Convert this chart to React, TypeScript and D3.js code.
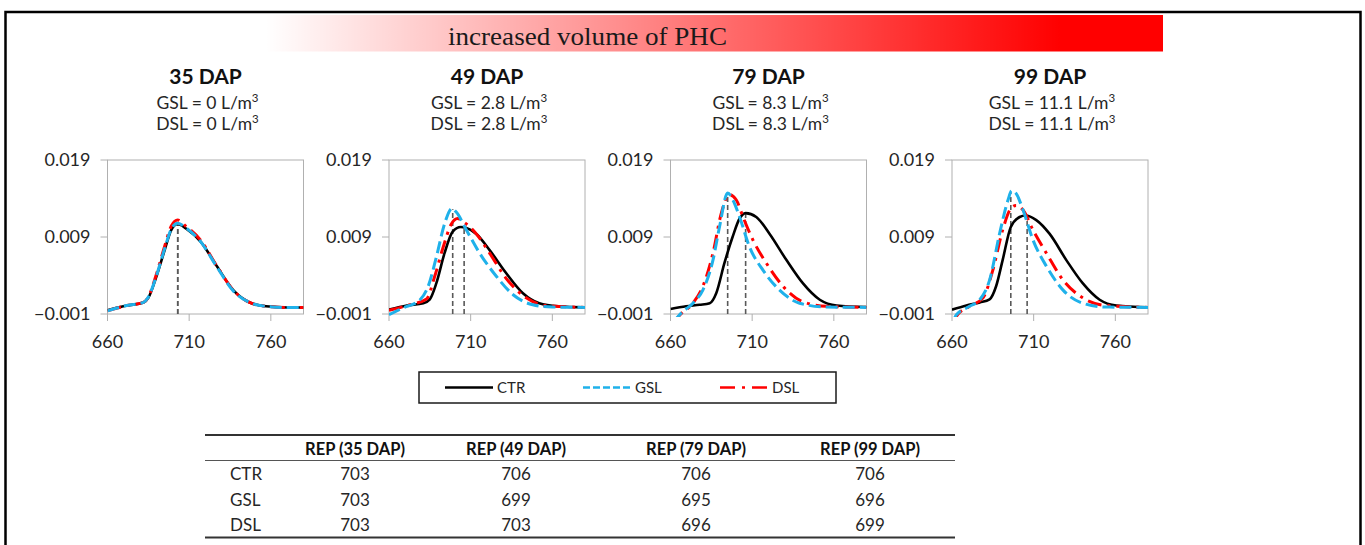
import React from 'react';
import * as d3 from 'd3';

// ---------- data ----------
const panelTitles = ['35 DAP', '49 DAP', '79 DAP', '99 DAP'];
const gslDoses = ['0', '2.8', '8.3', '11.1'];
const dslDoses = ['0', '2.8', '8.3', '11.1'];
const xTicks = [660, 710, 760];
const yTicks = [-0.001, 0.009, 0.019];
const yTickLabels = ['\u22120.001', '0.009', '0.019'];
const seriesNames = ['CTR', 'GSL', 'DSL'];
const tableHeaders = ['REP (35 DAP)', 'REP (49 DAP)', 'REP (79 DAP)', 'REP (99 DAP)'];
const repCTR = [703, 706, 706, 706];
const repGSL = [703, 699, 695, 696];
const repDSL = [703, 703, 696, 699];

type P = [number, number];

const ctr35: P[] = [[660, -0.0005], [672, 0.0001], [682, 0.0005], [685, 0.0011], [690, 0.0039], [695, 0.0073], [699, 0.0099], [703, 0.0107], [708, 0.0101], [717, 0.0084], [727, 0.0052], [737, 0.0021], [747, 0.0005], [757, 0.0], [770, -0.00015], [780, -0.00015]];
const gsl35: P[] = [[660, -0.0006], [672, 0.0001], [682, 0.0005], [685, 0.0012], [690, 0.004], [695, 0.0075], [699, 0.01], [703, 0.0108], [708, 0.0102], [717, 0.0084], [727, 0.0051], [737, 0.002], [747, 0.0005], [757, 0.0], [770, -0.00015], [780, -0.00015]];
const dsl35: P[] = [[660, -0.0006], [672, 0.0001], [682, 0.0005], [685, 0.0012], [690, 0.0042], [695, 0.0078], [699, 0.0104], [703, 0.0112], [708, 0.0104], [717, 0.0086], [727, 0.0052], [737, 0.0021], [747, 0.0005], [757, 0.0], [770, -0.00015], [780, -0.00015]];

const ctr49: P[] = [[660, -0.00044], [671, 0.0001], [681, 0.0004], [685, 0.0009], [689, 0.003], [694, 0.0069], [699, 0.0097], [704, 0.0103], [707, 0.0102], [713.5, 0.0094], [721.6, 0.0073], [731.8, 0.0043], [742, 0.0017], [752, 0.0004], [764, 0.0], [780, -0.00014]];
const gsl49: P[] = [[660, -0.0011], [668.7, -0.0002], [679, 0.00085], [684, 0.0026], [689, 0.0064], [694, 0.0107], [698.5, 0.0127], [701.3, 0.0122], [707.4, 0.0099], [715.5, 0.0069], [725.7, 0.0039], [736, 0.0015], [748, 0.0002], [760, -0.0001], [780, -0.00014]];
const dsl49: P[] = [[660, -0.00053], [672.8, 0.0002], [683, 0.00094], [688, 0.0039], [693.2, 0.0077], [698.2, 0.0107], [702, 0.0114], [705.4, 0.011], [713.5, 0.0094], [721.6, 0.0069], [731.8, 0.0036], [744, 0.0011], [756, 0.0001], [780, -0.00014]];

const ctr79: P[] = [[660, -0.00035], [669.6, 0.0], [677.8, 0.0002], [684, 0.0004], [688, 0.0017], [693, 0.0056], [698, 0.009], [702.3, 0.0114], [706, 0.0121], [712.5, 0.0116], [720.7, 0.0094], [731, 0.006], [741, 0.003], [751.4, 0.00085], [761.6, 0.0001], [780, -0.0001]];
const gsl79: P[] = [[662, -0.002], [666, -0.001], [673.7, 0.0004], [679.8, 0.0021], [686, 0.006], [690, 0.0103], [695, 0.0147], [698.2, 0.0138], [702.3, 0.0116], [708.4, 0.0077], [716.6, 0.0047], [726.8, 0.0021], [739, 0.0004], [755.5, -0.0001], [780, -0.00014]];
const dsl79: P[] = [[662, -0.0022], [665, -0.0013], [673.7, 0.0004], [679.8, 0.0026], [686, 0.0069], [691, 0.012], [696, 0.0145], [700.3, 0.0138], [704.4, 0.0116], [710.5, 0.0086], [718.7, 0.0056], [728.9, 0.0026], [741, 0.0006], [755.5, 0.0], [780, -0.00014]];

const ctr99: P[] = [[660, -0.00044], [668.8, 0.0001], [677, 0.0005], [683, 0.0009], [687, 0.0026], [691, 0.006], [696, 0.0103], [701.4, 0.0116], [705, 0.0118], [711.6, 0.0112], [719.8, 0.0094], [730, 0.006], [740, 0.003], [750.4, 0.00085], [760.6, 0.0001], [780, -0.00014]];
const gsl99: P[] = [[661, -0.0018], [662.7, -0.0011], [670.8, 0.0], [677, 0.00085], [683, 0.0034], [689.2, 0.0095], [694.3, 0.0138], [696.5, 0.015], [699.4, 0.0146], [703.5, 0.0125], [709.6, 0.0086], [717.8, 0.0052], [728, 0.0021], [740, 0.0004], [754.5, -0.0001], [780, -0.00014]];
const dsl99: P[] = [[661, -0.002], [662.7, -0.0013], [670.8, 0.0], [679, 0.0011], [685, 0.0047], [691, 0.0099], [696, 0.0127], [699.2, 0.0131], [703.5, 0.0125], [709.6, 0.0099], [717.8, 0.0069], [728, 0.0034], [740, 0.0011], [754.5, 0.0001], [780, -0.00014]];

const ctrCurves = [ctr35, ctr49, ctr79, ctr99];
const gslCurves = [gsl35, gsl49, gsl79, gsl99];
const dslCurves = [dsl35, dsl49, dsl79, dsl99];

// ---------- styles ----------
const FONT = 'Lato, "Open Sans", sans-serif';
const TXT = '#262626';
const COL_CTR = '#000000';
const COL_GSL = '#1fb1ea';
const COL_DSL = '#ff0000';

const PLOT_W = 196;
const PLOT_TOP = 160;
const PLOT_BOTTOM = 314;
const panelLeft = (i: number) => 107.5 + i * 281.5;

function interpAt(curve: P[], x: number) {
  const f = d3.scaleLinear().domain(curve.map(p => p[0])).range(curve.map(p => p[1]));
  return f(x);
}

function DoseLine({ x, y, label, dose }: { x: number; y: number; label: string; dose: string }) {
  return (
    <text x={x} y={y} textAnchor="middle" fontFamily={FONT} fontSize={17.5} fill={TXT}>
      {`${label} = ${dose} L/m`}
      <tspan fontSize={11.5} dy={-7}>3</tspan>
    </text>
  );
}

function Panel({ i }: { i: number }) {
  const left = panelLeft(i);
  const x = d3.scaleLinear().domain([660, 780]).range([left, left + PLOT_W]);
  const y = d3.scaleLinear().domain([-0.001, 0.019]).range([PLOT_BOTTOM, PLOT_TOP]);
  const line = d3.line<P>().x(d => x(d[0])).y(d => y(d[1])).curve(d3.curveMonotoneX);
  const cx = left + PLOT_W / 2;
  const clipId = `clip${i}`;
  const vlines = [
    { v: repGSL[i], c: gslCurves[i] },
    { v: repCTR[i], c: ctrCurves[i] },
  ];
  return (
    <g>
      <text x={cx} y={84} textAnchor="middle" fontFamily={FONT} fontWeight={700} fontSize={21} fill="#111">{panelTitles[i]}</text>
      <DoseLine x={cx + 2} y={109} label="GSL" dose={gslDoses[i]} />
      <DoseLine x={cx + 2} y={129.5} label="DSL" dose={dslDoses[i]} />
      <defs>
        <clipPath id={clipId}>
          <rect x={left} y={PLOT_TOP - 10} width={PLOT_W} height={PLOT_BOTTOM - PLOT_TOP + 13} />
        </clipPath>
      </defs>
      <rect x={left} y={PLOT_TOP} width={PLOT_W} height={PLOT_BOTTOM - PLOT_TOP} fill="none" stroke="#b0b0b0" strokeWidth={1} />
      {yTicks.map((t, k) => (
        <g key={'y' + k}>
          <line x1={left - 7} x2={left} y1={y(t)} y2={y(t)} stroke="#b0b0b0" />
          <text x={left - 17} y={y(t)} dy="0.35em" textAnchor="end" fontFamily={FONT} fontSize={18} fill={TXT}>{yTickLabels[k]}</text>
        </g>
      ))}
      {xTicks.map((t, k) => (
        <g key={'x' + k}>
          <line x1={x(t)} x2={x(t)} y1={PLOT_BOTTOM} y2={PLOT_BOTTOM + 7} stroke="#b0b0b0" />
          <text x={x(t)} y={348} textAnchor="middle" fontFamily={FONT} fontSize={18} fill={TXT}>{t}</text>
        </g>
      ))}
      {vlines.map((vl, k) => (
        <line key={'v' + k} x1={x(vl.v)} x2={x(vl.v)} y1={PLOT_BOTTOM} y2={y(interpAt(vl.c, vl.v))} stroke="#595959" strokeWidth={1.6} strokeDasharray="5,3" />
      ))}
      <g clipPath={`url(#${clipId})`}>
        <path d={line(ctrCurves[i]) || ''} fill="none" stroke={COL_CTR} strokeWidth={2.6} />
        <path d={line(dslCurves[i]) || ''} fill="none" stroke={COL_DSL} strokeWidth={3} strokeDasharray="14,6,3,6" />
        <path d={line(gslCurves[i]) || ''} fill="none" stroke={COL_GSL} strokeWidth={3} strokeDasharray="12,5" />
      </g>
    </g>
  );
}

export default function App() {
  const legendItems = [
    { name: seriesNames[0], color: COL_CTR, dash: 'none', x: 445 },
    { name: seriesNames[1], color: COL_GSL, dash: '7,3', x: 583 },
    { name: seriesNames[2], color: COL_DSL, dash: '15,7,3,7', x: 720 },
  ];
  const colX = [355, 516, 696, 870];
  const rows = [
    { name: seriesNames[0], vals: repCTR },
    { name: seriesNames[1], vals: repGSL },
    { name: seriesNames[2], vals: repDSL },
  ];
  const rowY = [480, 506, 531];
  return (
    <svg width={1365} height={545} style={{ position: 'absolute', left: 0, top: 0, background: '#fff' }}>
      <defs>
        <linearGradient id="phcGrad" x1="0" x2="1" y1="0" y2="0">
          <stop offset="0" stopColor="#ff0000" stopOpacity={0} />
          <stop offset="0.885" stopColor="#ff0000" stopOpacity={1} />
          <stop offset="1" stopColor="#ff0000" stopOpacity={1} />
        </linearGradient>
      </defs>
      <rect x={5.5} y={12} width={1355} height={600} fill="none" stroke="#000" strokeWidth={2.5} />
      <rect x={265} y={15} width={898} height={36.5} fill="url(#phcGrad)" />
      <text x={448} y={45} fontFamily='"Liberation Serif", "DejaVu Serif", serif' fontSize={25} fill="#1a1a1a" textLength={279} lengthAdjust="spacingAndGlyphs">increased volume of PHC</text>

      {panelTitles.map((_, i) => <Panel key={i} i={i} />)}

      <rect x={419} y={372} width={417} height={31} fill="#fff" stroke="#1a1a1a" strokeWidth={1.5} />
      {legendItems.map(it => (
        <g key={it.name}>
          <line x1={it.x} x2={it.x + 48} y1={387.5} y2={387.5} stroke={it.color} strokeWidth={2.5} strokeDasharray={it.dash} />
          <text x={it.x + 52} y={387.5} dy="0.35em" fontFamily={FONT} fontSize={15} fill={TXT}>{it.name}</text>
        </g>
      ))}

      <line x1={205} x2={955} y1={435} y2={435} stroke="#333" strokeWidth={2} />
      <line x1={205} x2={955} y1={460.5} y2={460.5} stroke="#555" strokeWidth={1} />
      <line x1={205} x2={955} y1={537.5} y2={537.5} stroke="#333" strokeWidth={2} />
      {tableHeaders.map((h, k) => (
        <text key={h} x={colX[k]} y={455} textAnchor="middle" fontFamily={FONT} fontWeight={700} fontSize={16.5} fill="#111">{h}</text>
      ))}
      {rows.map((r, ri) => (
        <g key={r.name}>
          <text x={230} y={rowY[ri]} fontFamily={FONT} fontSize={17} fill={TXT}>{r.name}</text>
          {r.vals.map((v, k) => (
            <text key={k} x={colX[k]} y={rowY[ri]} textAnchor="middle" fontFamily={FONT} fontSize={17} fill={TXT}>{v}</text>
          ))}
        </g>
      ))}
    </svg>
  );
}
